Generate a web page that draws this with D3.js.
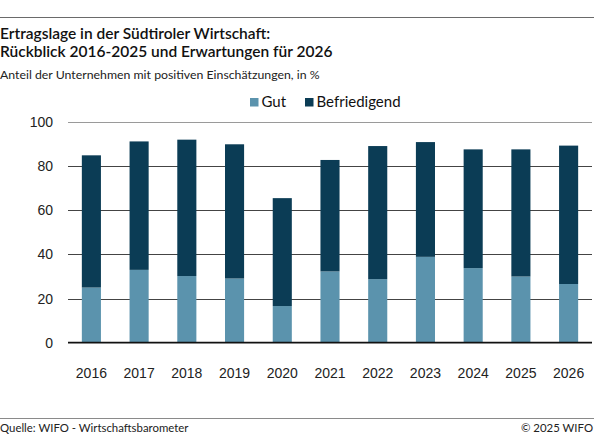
<!DOCTYPE html>
<html>
<head>
<meta charset="utf-8">
<script src="https://cdn.jsdelivr.net/npm/d3@7"></script>
<style>
  body { margin: 0; background: #fff; }
  .title { font-family: Lato, sans-serif; font-size: 15.5px; font-weight: 600; fill: #111; }
  .sub { font-family: Lato, sans-serif; font-size: 12.3px; fill: #222; }
  .legend { font-family: Lato, sans-serif; font-size: 15px; fill: #111; }
  .foot { font-family: Lato, sans-serif; font-size: 11.4px; fill: #222; }
  .axis text { font-family: "Liberation Sans", Arial, sans-serif; font-size: 14px; fill: #222; }
</style>
</head>
<body>
<div id="chart"></div>
<script>
var years = ["2016", "2017", "2018", "2019", "2020", "2021", "2022", "2023", "2024", "2025", "2026"];
var gut = [25, 33, 30.2, 29.1, 16.6, 32.3, 28.8, 38.9, 33.8, 30, 26.6];
var befriedigend = [59.9, 58.2, 61.8, 60.8, 48.9, 50.5, 60.3, 52, 53.8, 57.6, 62.7];
var yTicks = [0, 20, 40, 60, 80, 100];
var seriesNames = ["Gut", "Befriedigend"];
var colors = ["#5b93ad", "#0b3c55"];

var width = 594;
var height = 438;
var margin = {top: 122, right: 2, bottom: 95, left: 68};

var svg = d3.select("#chart")
	.append("svg")
	.attr("width", width)
	.attr("height", height);

// rules top and bottom
svg.append("line")
	.attr("x1", 0).attr("x2", width)
	.attr("y1", 17.5).attr("y2", 17.5)
	.style("stroke", "#6a6a6a")
	.style("stroke-width", 1.2);

svg.append("line")
	.attr("x1", 0).attr("x2", width)
	.attr("y1", 418.5).attr("y2", 418.5)
	.style("stroke", "#8a8a8a")
	.style("stroke-width", 1.2);

// titles
svg.append("text").attr("class", "title").attr("x", 0).attr("y", 38.5)
	.text("Ertragslage in der Südtiroler Wirtschaft:");
svg.append("text").attr("class", "title").attr("x", 0).attr("y", 57)
	.text("Rückblick 2016-2025 und Erwartungen für 2026");
svg.append("text").attr("class", "sub").attr("x", 0).attr("y", 78.5)
	.text("Anteil der Unternehmen mit positiven Einschätzungen, in %");

// footer
svg.append("text").attr("class", "foot").attr("x", 0).attr("y", 432)
	.text("Quelle: WIFO - Wirtschaftsbarometer");
svg.append("text").attr("class", "foot").attr("x", 593).attr("y", 432)
	.attr("text-anchor", "end")
	.text("© 2025 WIFO");

// scales
var x = d3.scaleBand()
	.domain(years)
	.range([margin.left, width - margin.right])
	.paddingInner(0.6)
	.paddingOuter(0.29);

var y = d3.scaleLinear()
	.domain([0, 100])
	.range([height - margin.bottom - 0.3, margin.top]);

// gridlines
svg.append("g")
	.selectAll("line")
	.data(yTicks.filter(function(d) { return d > 0; }))
	.enter().append("line")
	.attr("x1", margin.left)
	.attr("x2", width - margin.right)
	.attr("y1", function(d) { return Math.round(y(d)) + 0.5; })
	.attr("y2", function(d) { return Math.round(y(d)) + 0.5; })
	.style("stroke", function(d) { return d === 100 ? "#9a9a9a" : "#444"; })
	.style("stroke-width", 1);

// y axis labels
var yAxis = svg.append("g")
	.attr("class", "axis")
	.attr("transform", "translate(" + (margin.left) + ",0)")
	.call(d3.axisLeft(y).tickValues(yTicks).tickSize(0).tickPadding(15));
yAxis.select(".domain").remove();

// stacked bars
var stackData = years.map(function(yr, i) {
	return {year: yr, Gut: gut[i], Befriedigend: befriedigend[i]};
});
var stack = d3.stack().keys(seriesNames)(stackData);

svg.append("g")
	.selectAll("g")
	.data(stack)
	.enter().append("g")
	.style("fill", function(d, i) { return colors[i]; })
	.selectAll("rect")
	.data(function(d) { return d; })
	.enter().append("rect")
	.attr("x", function(d) { return x(d.data.year); })
	.attr("width", x.bandwidth())
	.attr("y", function(d) { return y(d[1]); })
	.attr("height", function(d) { return y(d[0]) - y(d[1]); });

// baseline
svg.append("line")
	.attr("x1", margin.left).attr("x2", width - margin.right)
	.attr("y1", y(0)).attr("y2", y(0))
	.style("stroke", "#111")
	.style("stroke-width", 1.8);

// x axis labels
var xAxis = svg.append("g")
	.attr("class", "axis")
	.attr("transform", "translate(0," + y(0) + ")")
	.call(d3.axisBottom(x).tickSize(0).tickPadding(25));
xAxis.select(".domain").remove();

// legend
var legend = svg.append("g")
	.selectAll("g")
	.data(seriesNames)
	.enter().append("g")
	.attr("transform", function(d, i) { return "translate(" + [250, 305][i] + ",0)"; });

legend.append("rect")
	.attr("x", 0).attr("y", 98)
	.attr("width", 8.5).attr("height", 8.5)
	.style("fill", function(d, i) { return colors[i]; });

legend.append("text")
	.attr("class", "legend")
	.attr("x", 11.5).attr("y", 107)
	.text(function(d) { return d; });
</script>
</body>
</html>
